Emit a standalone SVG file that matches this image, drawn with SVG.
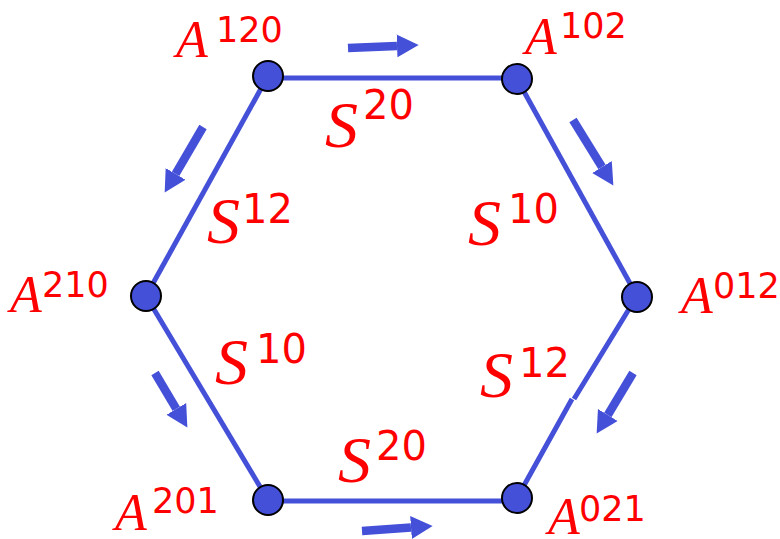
<svg xmlns="http://www.w3.org/2000/svg" width="780" height="539" viewBox="0 0 780 539">
<style>
.edge{stroke:#4450D8;stroke-width:5;fill:none;stroke-linecap:butt}
.arr{stroke:#4450D8;stroke-width:8.5;fill:none;marker-end:url(#ah)}
.node{fill:#4450D8;stroke:#000;stroke-width:2}
.a{font-family:"Liberation Serif",serif;font-style:italic;font-size:52px;fill:#FF0000}
.s{font-family:"Liberation Serif",serif;font-style:italic;font-size:66px;fill:#FF0000}
.sa{font-family:"DejaVu Sans",sans-serif;font-size:35px;fill:#FF0000}
.ss{font-family:"DejaVu Sans",sans-serif;font-size:40px;fill:#FF0000}
</style>
<defs>
<marker id="ah" markerUnits="strokeWidth" viewBox="0 -1.5 2.7 3" refX="0" refY="0" markerWidth="2.7" markerHeight="3" orient="auto">
<path d="M0,-1.35 L2.55,0 L0,1.35 z" fill="#4450D8"/>
</marker>
</defs>
<g id="connectors">
<line class="edge" x1="268" y1="78" x2="517" y2="78"/>
<line class="edge" x1="268" y1="501" x2="517" y2="501"/>
<line class="edge" x1="268" y1="76" x2="146" y2="296"/>
<line class="edge" x1="146" y1="296" x2="268" y2="500"/>
<line class="edge" x1="517" y1="79" x2="637" y2="296"/>
<path class="edge" d="M637,296 L574,399 M572,399 L517,498"/>
<line class="arr" x1="348" y1="48" x2="397" y2="45.9"/>
<line class="arr" x1="362" y1="531" x2="411" y2="527.5"/>
<line class="arr" x1="203" y1="127" x2="175.6" y2="173.9"/>
<line class="arr" x1="155" y1="373" x2="176.3" y2="408.9"/>
<line class="arr" x1="573" y1="120" x2="602" y2="167.1"/>
<line class="arr" x1="633" y1="373" x2="607.8" y2="415"/>
</g>
<g id="A120"><circle class="node" cx="268" cy="76" r="15"/><text class="a" x="176" y="57">A</text><text class="sa" x="216" y="42">120</text></g>
<g id="A102"><circle class="node" cx="517" cy="79" r="15"/><text class="a" x="525" y="54">A</text><text class="sa" x="560" y="38">102</text></g>
<g id="A210"><circle class="node" cx="146" cy="296" r="15"/><text class="a" x="10" y="312">A</text><text class="sa" x="42" y="297">210</text></g>
<g id="A012"><circle class="node" cx="637" cy="297" r="15"/><text class="a" x="681" y="313">A</text><text class="sa" x="713" y="298">012</text></g>
<g id="A201"><circle class="node" cx="268" cy="500" r="15"/><text class="a" x="115" y="530">A</text><text class="sa" x="152" y="513">201</text></g>
<g id="A021"><circle class="node" cx="517" cy="498" r="15"/><text class="a" x="548" y="534">A</text><text class="sa" x="579" y="521">021</text></g>
<g id="labels">
<text class="s" x="325" y="147">S</text><text class="ss" x="363" y="119">20</text>
<text class="s" x="207" y="243">S</text><text class="ss" x="242" y="223">12</text>
<text class="s" x="215" y="384">S</text><text class="ss" x="256" y="363">10</text>
<text class="s" x="468" y="245">S</text><text class="ss" x="508" y="223">10</text>
<text class="s" x="480" y="397">S</text><text class="ss" x="519" y="377">12</text>
<text class="s" x="338" y="482">S</text><text class="ss" x="376" y="460">20</text>
</g>
</svg>
